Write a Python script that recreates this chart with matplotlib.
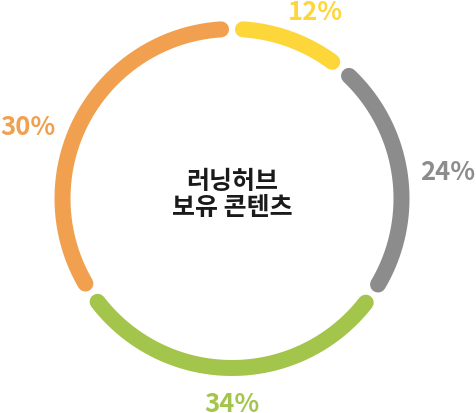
import matplotlib
matplotlib.use("Agg")
import matplotlib.pyplot as plt
import numpy as np

plt.rcParams["font.family"] = ["Noto Sans CJK KR", "DejaVu Sans"]

# data
categories = ["yellow", "gray", "green", "orange"]
shares = [12, 24, 34, 30]                 # printed labels
arc_shares = [11.1, 23.4, 31.1, 34.4]     # arc lengths as drawn in the picture (%)
colors = ["#FDD63A", "#8C8C8C", "#A4C54B", "#F0A04E"]
center_title = "러닝허브\n보유 콘텐츠"

# layout (pixel coordinates, y down)
CX, CY, R = 232, 199.5, 169.5
LW = 16
TRIM = 3.7  # degrees trimmed at each end of a segment
label_pos = [(315, 12), (448, 173), (232, 405), (28, 128)]

fig = plt.figure(figsize=(4.76, 4.14), dpi=100)
ax = fig.add_axes([0, 0, 1, 1])
ax.set_xlim(0, 476)
ax.set_ylim(414, 0)
ax.set_aspect("equal")
ax.axis("off")

start = 0.0
for share, arc, color, (lx, ly) in zip(shares, arc_shares, colors, label_pos):
    a0 = start * 3.6 + TRIM
    a1 = (start + arc) * 3.6 - TRIM
    ang = np.radians(np.linspace(a0, a1, 200))
    ax.plot(CX + R * np.sin(ang), CY - R * np.cos(ang), color=color,
            linewidth=LW * 72 / 100, solid_capstyle="round")
    ax.text(lx, ly, f"{share}%", ha="center", va="center", color=color,
            fontsize=18.5, fontweight="bold")
    start += arc

ax.text(CX, 195, center_title, ha="center", va="center", fontsize=18,
        fontweight="bold", color="#1a1a1a", linespacing=1.1)

fig.savefig("out.png", dpi=100)
